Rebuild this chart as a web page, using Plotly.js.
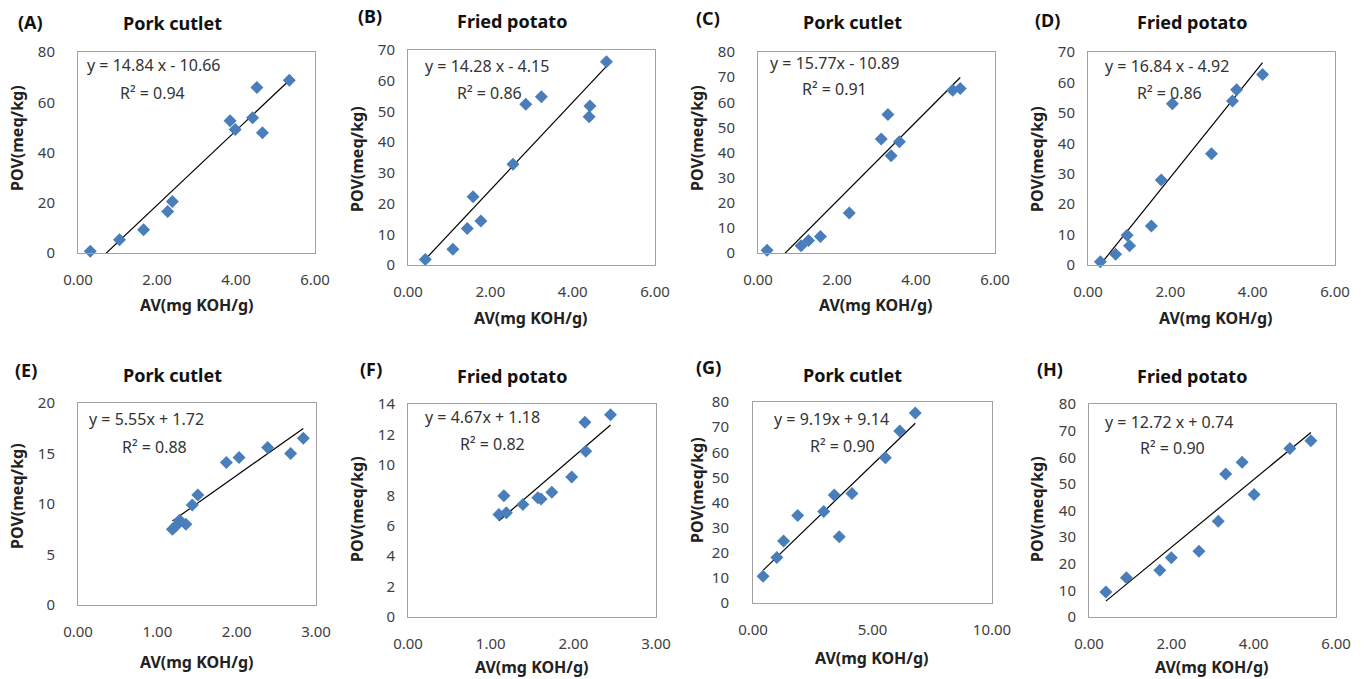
<!DOCTYPE html>
<html>
<head>
<meta charset="utf-8">
<script src="https://cdn.plot.ly/plotly-3.0.1.min.js"></script>
<style>html,body{margin:0;padding:0;background:#fff;}#chart{width:1364px;height:679px;}</style>
</head>
<body>
<div id="chart"></div>
<script>
// ---- data ----
const panelLetters = ['(A)','(B)','(C)','(D)','(E)','(F)','(G)','(H)'];
const panelTitles = ['Pork cutlet','Fried potato','Pork cutlet','Fried potato','Pork cutlet','Fried potato','Pork cutlet','Fried potato'];
const xA = [0.31,1.05,1.66,2.27,2.39,3.85,3.98,4.42,4.53,4.67,5.35];
const yA = [0.7,5.3,9.3,16.5,20.5,52.6,49.2,53.8,65.9,47.9,68.8];
const xB = [0.42,1.09,1.44,1.58,1.77,2.55,2.86,3.24,4.42,4.40,4.82];
const yB = [1.8,5.1,11.9,22.2,14.3,32.8,52.3,54.8,51.8,48.3,66.2];
const xC = [0.23,1.09,1.28,1.58,2.31,3.12,3.29,3.37,3.58,4.93,5.12];
const yC = [1.1,2.9,5.0,6.6,15.9,45.4,55.1,38.7,44.3,64.8,65.5];
const xD = [0.30,0.67,0.95,1.01,1.54,1.78,2.05,3.00,3.51,3.61,4.24];
const yD = [1.1,3.5,9.8,6.3,12.8,27.9,53.0,36.6,53.9,57.6,62.6];
const xE = [1.19,1.23,1.28,1.36,1.44,1.51,1.87,2.03,2.39,2.68,2.84];
const yE = [7.5,7.8,8.4,8.0,9.9,10.9,14.1,14.6,15.6,15.0,16.5];
const xF = [1.10,1.16,1.19,1.39,1.57,1.61,1.74,1.98,2.14,2.15,2.45];
const yF = [6.74,7.97,6.85,7.4,7.83,7.75,8.2,9.2,12.8,10.9,13.3];
const xG = [0.42,1.00,1.28,1.87,2.96,3.40,3.61,4.14,5.54,6.14,6.79];
const yG = [10.6,18.1,24.7,34.8,36.4,43.0,26.4,43.6,57.8,68.5,75.6];
const xH = [0.41,0.91,1.72,2.00,2.67,3.14,3.32,3.72,4.01,4.88,5.39];
const yH = [9.4,14.7,17.6,22.3,24.7,36.0,53.7,58.1,46.0,63.3,66.2];
const slopes = [14.84,14.28,15.77,16.84,5.55,4.67,9.19,12.72];
const intercepts = [-10.66,-4.15,-10.89,-4.92,1.72,1.18,9.14,0.74];
const eqLabels = ['y = 14.84 x - 10.66','y = 14.28 x - 4.15','y = 15.77x - 10.89','y = 16.84 x - 4.92',
                  'y = 5.55x + 1.72','y = 4.67x + 1.18','y = 9.19x + 9.14','y = 12.72 x + 0.74'];
const r2Labels = ['R² = 0.94','R² = 0.86','R² = 0.91','R² = 0.86','R² = 0.88','R² = 0.82','R² = 0.90','R² = 0.90'];
const xRanges = [[0,6],[0,6],[0,6],[0,6],[0,3],[0,3],[0,10],[0,6]];
const yRanges = [[0,80],[0,70],[0,80],[0,70],[0,20],[0,14],[0,80],[0,80]];
const xDtick = [2,2,2,2,1,1,5,2];
const yDtick = [20,10,10,10,5,2,10,10];
const xTitle = 'AV(mg KOH/g)';
const yTitle = 'POV(meq/kg)';

const xs = [xA,xB,xC,xD,xE,xF,xG,xH];
const ys = [yA,yB,yC,yD,yE,yF,yG,yH];

// ---- layout geometry (pixels) ----
const W = 1364, H = 679;
const rects = [ // left, right, top, bottom
  [78,315,52,253],[408,655,50,265],[758,995,52,253],[1088,1335,52,265],
  [78,316,403,605],[408,656,404,617],[753,992,402,603],[1089,1336,404,617]
];
const yStand = [19,9,19,9,19,9,20,9];
const letterPos = [[30,22],[370,16],[708,18],[1047,20],[26,370],[371,369],[708,367],[1050,369]];
const titlePos = [[172,23],[512,21],[852,22],[1192,22],[172,375],[512,376],[852,375],[1192,376]];
const xtPos = [[197,305],[531,318],[876,305],[1216,318],[197,662],[532,667],[872,658],[1212,667]];
const ytPos = [[17,138],[357,159],[697,138],[1037,159],[17,496],[357,509],[697,490],[1037,509]];
const eqPos = [[85,65],[423,66],[768,63],[1103,66],[87,419],[423,417],[772,419],[1103,422]];
const r2Pos = [[118,93],[455,93],[800,89],[1135,93],[120,447],[458,444],[808,446],[1138,448]];

const FONT = 'Noto Sans, Open Sans, sans-serif';
const px = v => v / W;
const py = v => 1 - v / H;

const traces = [];
const layout = {
  width: W, height: H,
  margin: {l:0, r:0, t:0, b:0},
  paper_bgcolor: '#fff', plot_bgcolor: '#fff',
  showlegend: false,
  font: {family: FONT, color: '#404040', size: 15},
  annotations: []
};

for (let i = 0; i < 8; i++) {
  const sfx = i === 0 ? '' : String(i + 1);
  const xa = 'x' + sfx, ya = 'y' + sfx;
  const r = rects[i];
  const xmin = Math.min(...xs[i]), xmax = Math.max(...xs[i]);
  traces.push({
    x: [xmin, xmax],
    y: [slopes[i] * xmin + intercepts[i], slopes[i] * xmax + intercepts[i]],
    xaxis: xa, yaxis: ya, mode: 'lines', type: 'scatter',
    line: {color: '#000', width: 1.2}, hoverinfo: 'skip'
  });
  traces.push({
    x: xs[i], y: ys[i], xaxis: xa, yaxis: ya, mode: 'markers', type: 'scatter',
    marker: {symbol: 'diamond', size: 10, color: '#4a7ebb'}, cliponaxis: false
  });
  layout['xaxis' + sfx] = {
    domain: [px(r[0]), px(r[1])], anchor: ya, range: xRanges[i], dtick: xDtick[i], tick0: 0,
    tickformat: '.2f', showgrid: false, zeroline: false, showline: true, mirror: true,
    linecolor: '#a0a0a0', linewidth: 1, ticks: '', ticklabelstandoff: 13,
    tickfont: {family: FONT, size: 15, color: '#404040'}, fixedrange: true
  };
  layout['yaxis' + sfx] = {
    domain: [py(r[3]), py(r[2])], anchor: xa, range: yRanges[i], dtick: yDtick[i], tick0: 0,
    showgrid: false, zeroline: false, showline: true, mirror: true,
    linecolor: '#a0a0a0', linewidth: 1, ticks: '', ticklabelstandoff: yStand[i],
    tickfont: {family: FONT, size: 15, color: '#404040'}, fixedrange: true
  };
  const ann = (text, pos, opts) => Object.assign({
    text: text, xref: 'paper', yref: 'paper', x: px(pos[0]), y: py(pos[1]),
    showarrow: false, yanchor: 'middle', xanchor: 'center'
  }, opts);
  layout.annotations.push(ann(panelLetters[i], letterPos[i], {font: {family: FONT, size: 18, color: '#111', weight: 'bold'}}));
  layout.annotations.push(ann(panelTitles[i], titlePos[i], {font: {family: FONT, size: 18, color: '#111', weight: 'bold'}}));
  layout.annotations.push(ann(xTitle, xtPos[i], {font: {family: FONT, size: 16, color: '#222', weight: 'bold'}}));
  layout.annotations.push(ann(yTitle, ytPos[i], {textangle: -90, font: {family: FONT, size: 16, color: '#222', weight: 'bold'}}));
  layout.annotations.push(ann(eqLabels[i], eqPos[i], {xanchor: 'left', font: {family: FONT, size: 16, color: '#333'}}));
  layout.annotations.push(ann(r2Labels[i], r2Pos[i], {xanchor: 'left', font: {family: FONT, size: 16, color: '#333'}}));
}

Plotly.newPlot('chart', traces, layout, {staticPlot: true});
</script>
</body>
</html>
